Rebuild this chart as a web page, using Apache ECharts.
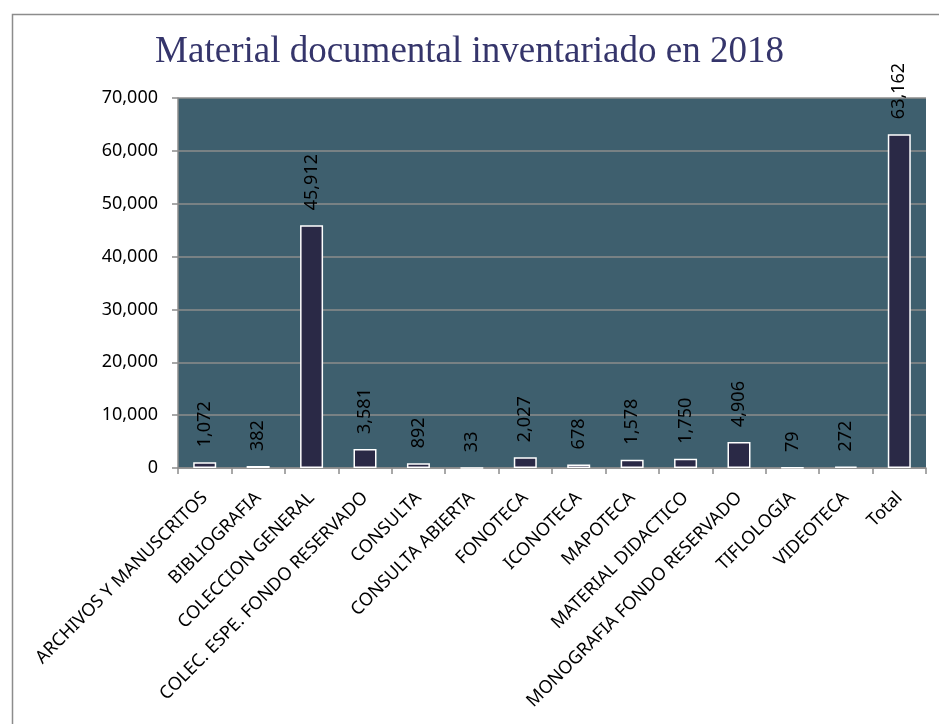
<!DOCTYPE html>
<html>
<head>
<meta charset="utf-8">
<script src="https://cdn.jsdelivr.net/npm/echarts@6/dist/echarts.min.js"></script>
<style>
  html, body { margin: 0; padding: 0; background: #fff; }
  #main { width: 939px; height: 724px; }
</style>
</head>
<body>
<div id="main"></div>
<script>
const categories = [
  "ARCHIVOS Y MANUSCRITOS", "BIBLIOGRAFIA", "COLECCION GENERAL",
  "COLEC. ESPE. FONDO RESERVADO", "CONSULTA", "CONSULTA ABIERTA",
  "FONOTECA", "ICONOTECA", "MAPOTECA", "MATERIAL DIDACTICO",
  "MONOGRAFIA FONDO RESERVADO", "TIFLOLOGIA", "VIDEOTECA", "Total"
];
const values = [1072, 382, 45912, 3581, 892, 33, 2027, 678, 1578, 1750, 4906, 79, 272, 63162];
const titleText = "Material documental inventariado en 2018";

const fmt = (v) => v.toLocaleString("en-US");

var myChart = echarts.init(document.getElementById("main"));
myChart.setOption({
  animation: false,
  backgroundColor: "#ffffff",
  title: {
    text: titleText,
    left: "center",
    top: 29,
    textStyle: {
      fontFamily: "Liberation Serif",
      fontWeight: "normal",
      fontSize: 37,
      color: "#35356b"
    }
  },
  // outer chart border (clipped on right/bottom like the source)
  graphic: [{
    type: "rect",
    left: 10, top: 12,
    shape: { width: 1000, height: 1000 },
    style: { fill: "none", stroke: "#8c8c8c", lineWidth: 1.5 },
    silent: true
  }],
  grid: {
    left: 178, right: 13, top: 98, bottom: 256,
    show: true,
    backgroundColor: "#3e5f6e",
    borderWidth: 0
  },
  xAxis: {
    type: "category",
    data: categories,
    axisLine: { lineStyle: { color: "#8c8c8c", width: 1.5 } },
    axisTick: { show: true, length: 6, lineStyle: { color: "#8c8c8c", width: 1.5 } },
    axisLabel: {
      rotate: 45,
      interval: 0,
      margin: 27,
      fontFamily: "Noto Sans",
      fontSize: 18,
      color: "#000"
    }
  },
  yAxis: {
    type: "value",
    min: 0,
    max: 70000,
    interval: 10000,
    axisLine: { show: true, lineStyle: { color: "#8c8c8c", width: 1.5 } },
    axisTick: { show: true, length: 6, lineStyle: { color: "#8c8c8c", width: 1.5 } },
    splitLine: { lineStyle: { color: "#8c8c8c", width: 1.5 } },
    axisLabel: {
      formatter: fmt,
      margin: 20,
      fontFamily: "Noto Sans",
      fontSize: 18,
      color: "#000"
    }
  },
  series: [{
    type: "bar",
    data: values,
    barWidth: 23,
    itemStyle: {
      color: "#2a2946",
      borderColor: "#ffffff",
      borderWidth: 1.5
    },
    label: {
      show: true,
      position: "top",
      rotate: 90,
      align: "left",
      verticalAlign: "middle",
      distance: 15,
      formatter: (p) => fmt(p.value),
      fontFamily: "Noto Sans",
      fontSize: 18,
      color: "#000"
    }
  }]
});
</script>
</body>
</html>
